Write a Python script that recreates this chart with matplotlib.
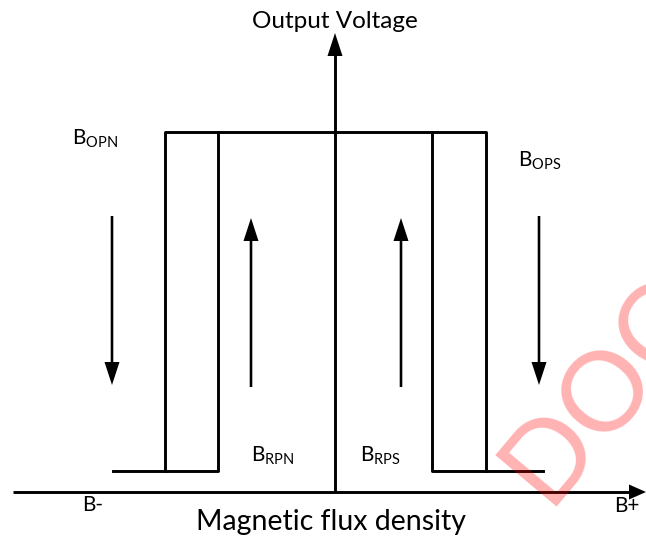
import matplotlib
matplotlib.use('Agg')
from matplotlib import pyplot as plt

plt.rcParams['font.family'] = ['Lato', 'DejaVu Sans']

# switching points on the flux axis (origin where the two axes cross)
B_OPN = -170
B_RPN = -117
B_RPS = 97
B_OPS = 151

# output levels
v_low = 21
v_high = 360

# ends of the low output segments
b_left_end = -222
b_right_end = 208

# direction arrows: x position, start, end
flecha_x = [-223, -84, 66, 204]
flecha_y0 = [276, 105, 105, 276]
flecha_y1 = [107, 274, 274, 107]

# axes extent
eje_x = [-322, 311]
eje_y = [0, 459]

fig = plt.figure(figsize=(6.46, 5.39), dpi=100)
ax = fig.add_axes([0, 0, 1, 1])
ax.set_xlim(-335, 311)
ax.set_ylim(-47, 492)
ax.axis('off')

lw = 2.1

# axes with arrow heads
ax.plot([eje_x[0], eje_x[1] - 16], [0, 0], color='black', lw=lw, solid_capstyle='butt')
ax.arrow(eje_x[1] - 17, 0, 17, 0, width=0.1, head_width=15, head_length=17,
         length_includes_head=True, color='black', lw=0)
ax.plot([0, 0], [eje_y[0], eje_y[1] - 22], color='black', lw=lw, solid_capstyle='butt')
ax.arrow(0, eje_y[1] - 23, 0, 23, width=0.1, head_width=15, head_length=23,
         length_includes_head=True, color='black', lw=0)

# outer loop
ax.plot([b_left_end, B_RPN, B_RPN], [v_low, v_low, v_high], color='black', lw=lw)
ax.plot([B_OPN, B_OPN, B_OPS, B_OPS], [v_low, v_high, v_high, v_low], color='black', lw=lw)
ax.plot([B_RPS, B_RPS, b_right_end], [v_high, v_low, v_low], color='black', lw=lw)

# direction arrows
for x, y0, y1 in zip(flecha_x, flecha_y0, flecha_y1):
    ax.arrow(x, y0, 0, y1 - y0, width=2.6, head_width=15, head_length=23,
             length_includes_head=True, color='black', lw=0)

fs = 15
ax.text(0, 471, 'Output Voltage', ha='center', va='center', fontsize=17.5)
ax.text(-263, 347, r'$\mathregular{B_{OPN}}$', ha='left', va='baseline', fontsize=fs)
ax.text(183, 325, r'$\mathregular{B_{OPS}}$', ha='left', va='baseline', fontsize=fs)
ax.text(-84, 30, r'$\mathregular{B_{RPN}}$', ha='left', va='baseline', fontsize=fs)
ax.text(25, 30, r'$\mathregular{B_{RPS}}$', ha='left', va='baseline', fontsize=fs)
ax.text(-253, -19, 'B-', ha='left', va='baseline', fontsize=fs)
ax.text(279, -20, 'B+', ha='left', va='baseline', fontsize=fs)
ax.text(-4, -38, 'Magnetic flux density', ha='center', va='baseline', fontsize=20.5)

# watermark
ax.text(212, -14, 'DOCUMENT', rotation=50, rotation_mode='anchor', ha='left', va='baseline',
        fontsize=80, color='red', alpha=0.3, clip_on=True)

fig.savefig('out.png', dpi=100)
